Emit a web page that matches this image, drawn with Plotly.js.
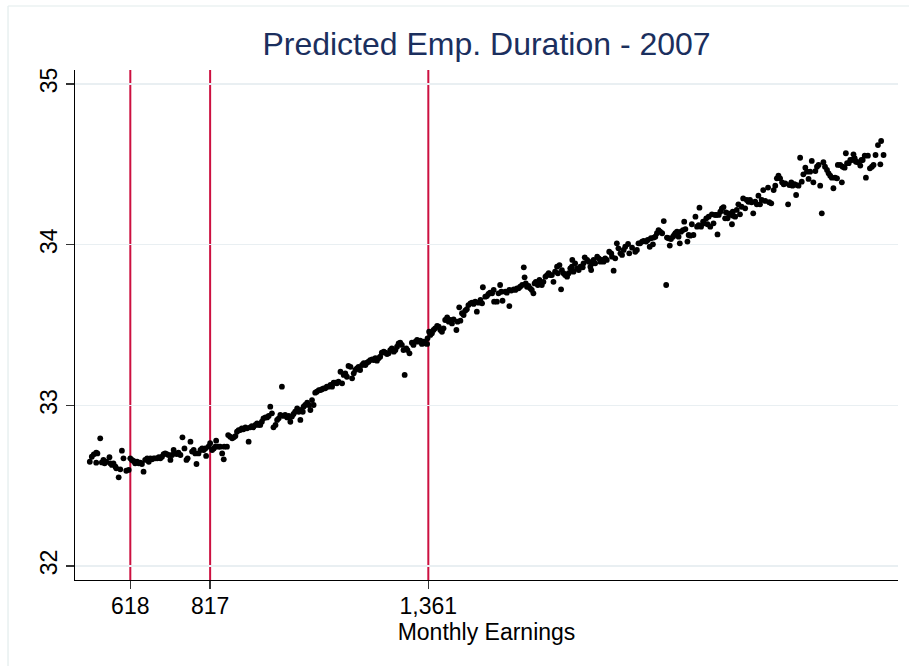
<!DOCTYPE html>
<html>
<head>
<meta charset="utf-8">
<script src="https://cdn.plot.ly/plotly-3.0.1.min.js"></script>
<style>html,body{margin:0;padding:0;background:#fff;overflow:hidden;}#chart{width:909px;height:666px;}</style>
</head>
<body>
<div id="chart"></div>
<script>
// Monthly earnings (x) of each point
const earnings = [
517,522,527,533,536,533,543,547,551,554,558,566,568,572,576,581,583,589,593,597,
601,608,614,618,622,626,630,635,639,643,647,651,655,660,664,668,672,676,680,685,
689,693,697,701,705,709,713,718,722,726,730,734,738,743,748,753,758,761,768,772,
776,780,783,788,793,797,801,805,807,813,817,822,826,830,832,838,842,847,851,852,
859,862,867,872,876,880,884,888,892,896,900,905,909,913,917,921,925,930,934,938,
942,946,950,955,959,963,967,971,975,980,984,988,992,996,1000,1004,1009,1013,1017,1021,
1025,1029,1034,1038,1042,1044,1048,1050,1054,1059,1063,1067,1071,1075,1079,1083,1088,1092,1096,1100,
1104,1108,1112,1117,1121,1125,1129,1133,1137,1142,1146,1150,1154,1158,1162,1167,1171,1175,1179,1183,1187,
1191,1196,1200,1204,1208,1212,1216,1221,1225,1229,1233,1237,1241,1245,1250,1254,1258,1262,1266,1270,
1275,1279,1283,1287,1291,1295,1299,1302,1306,1309,1314,1320,1324,1329,1333,1337,1341,1345,1349,1353,
1358,1359,1363,1366,1370,1374,1378,1383,1387,1391,1395,1399,1403,1408,1412,1416,1420,1424,1431,1434,
1438,1441,1445,1449,1453,1457,1461,1466,1470,1474,1478,1482,1486,1491,1495,1497,1503,1507,1511,1515,
1520,1524,1525,
1532,1536,1540,1543,1546,1553,1557,1563,1563,1568,1574,1578,1582,1586,1590,1595,1599,1601,1604,1607,
1611,1615,1619,1623,1626,1629,1634,1638,1640,1644,1648,1653,1657,1661,1665,1669,1673,1677,1682,1684,
1688,1692,1694,1698,1702,1707,1711,1715,1719,1720,1723,1727,1732,1736,1740,1746,1748,1751,1757,1761,
1765,1767,1771,1773,1777,1782,1786,1790,1794,1798,1802,1806,1812,1817,1819,1823,1827,1831,1835,1840,
1844,1848,1852,1859,1862,
1869,1877,1881,1885,1889,1894,1898,1904,1908,1913,1916,1921,1923,1927,1931,1935,1939,1944,1948,1954,
1956,1960,1963,1966,1971,1974,1977,1981,1985,1988,1991,1996,1999,2002,2007,2010,2014,2018,2022,2027,
2031,2035,2037,2041,2046,2049,2054,2057,2060,2064,2068,2072,2076,2079,2082,2085,2089,2093,2097,2101,
2103,2107,2109,2113,2118,2120,2121,2126,2130,2134,2138,2142,2146,2151,2155,2159,2163,2167,2171,2176,
2180,2184,2188,2192,2196,
2201,2208,2211,2216,2222,2226,2230,2234,2238,2243,2247,2251,2258,2261,2266,2269,2274,2278,2280,2284,
2288,2292,2296,2301,2305,2309,2313,2317,2321,2326,2330,2334,2338,2342,2346,2350,2355,2359,2363,2367,
2371,2375,2380,2382,2388,2392,2394,2399,2402,2405,2409,2413,2417,2421,2424,2427,2432,2438,2441,2444,
2449,2452,2457,2462,2467,2471,2476,2482,2488,2490,2496
];

// Predicted employment duration (y) of each point
const duration = [
32.649,32.680,32.695,32.705,32.701,32.643,32.795,32.645,32.660,32.639,32.649,32.677,32.639,32.629,32.639,32.618,32.608,32.552,32.602,32.718,
32.670,32.593,32.598,32.670,32.660,32.654,32.639,32.649,32.639,32.643,32.635,32.587,32.660,32.670,32.649,32.670,32.664,32.670,32.670,32.670,
32.677,32.670,32.680,32.697,32.701,32.697,32.691,32.660,32.691,32.722,32.701,32.697,32.705,32.691,32.801,32.732,32.660,32.670,32.774,32.712,
32.722,32.701,32.635,32.701,32.722,32.732,32.722,32.732,32.685,32.743,32.764,32.722,32.732,32.743,32.780,32.743,32.743,32.701,32.664,32.743,
32.743,32.815,32.805,32.795,32.801,32.809,32.836,32.846,32.846,32.857,32.851,32.863,32.857,32.774,32.863,32.871,32.863,32.878,32.888,32.878,
32.878,32.898,32.919,32.925,32.925,32.934,32.992,32.950,32.863,32.878,32.909,32.919,32.940,33.116,32.934,32.940,32.925,32.934,32.898,32.930,
32.946,32.960,32.981,32.960,32.909,32.971,32.960,32.992,33.002,33.016,33.002,32.971,33.033,33.002,33.079,33.085,33.095,33.095,33.100,33.106,
33.106,33.116,33.116,33.127,33.116,33.141,33.141,33.137,33.147,33.209,33.137,33.189,33.199,33.178,33.245,33.240,33.168,33.199,33.220,33.230,33.240,
33.220,33.251,33.262,33.251,33.265,33.272,33.282,33.286,33.282,33.293,33.278,33.293,33.303,33.328,33.334,33.328,33.319,33.324,33.344,33.355,
33.334,33.344,33.365,33.386,33.390,33.376,33.344,33.189,33.355,33.344,33.324,33.390,33.376,33.396,33.407,33.396,33.403,33.382,33.396,33.386,
33.382,33.417,33.458,33.438,33.448,33.469,33.479,33.494,33.489,33.469,33.458,33.479,33.531,33.548,33.521,33.531,33.510,33.535,33.469,33.521,
33.610,33.527,33.573,33.562,33.589,33.598,33.624,33.635,33.639,33.631,33.645,33.583,33.639,33.656,33.635,33.735,33.676,33.680,33.693,33.701,
33.697,33.718,33.645,
33.645,33.697,33.749,33.707,33.651,33.707,33.701,33.618,33.718,33.714,33.722,33.718,33.728,33.728,33.738,33.749,33.859,33.797,33.759,33.738,
33.743,33.728,33.718,33.697,33.759,33.769,33.749,33.780,33.763,33.749,33.769,33.801,33.811,33.822,33.811,33.811,33.769,33.832,33.863,33.822,
33.873,33.722,33.842,33.822,33.811,33.801,33.822,33.853,33.863,33.905,33.832,33.884,33.853,33.842,33.863,33.859,33.884,33.921,33.905,33.894,
33.863,33.842,33.884,33.905,33.884,33.925,33.915,33.894,33.905,33.894,33.915,33.905,33.956,33.946,33.925,33.838,33.915,34.008,33.977,33.946,
33.936,33.967,33.987,34.004,33.946,
33.981,33.956,33.967,34.008,34.008,34.019,34.023,34.019,34.029,33.987,34.040,34.002,34.044,34.050,34.071,34.091,34.081,34.071,34.147,33.749,
34.044,34.040,33.994,34.035,34.050,34.060,34.071,34.081,34.050,34.008,34.081,34.091,34.143,34.097,34.019,34.060,34.056,34.127,34.060,34.174,
34.112,34.122,34.230,34.112,34.143,34.133,34.164,34.127,34.174,34.112,34.189,34.133,34.185,34.185,34.064,34.185,34.205,34.226,34.234,34.164,
34.201,34.164,34.195,34.185,34.127,34.205,34.180,34.174,34.216,34.251,34.189,34.236,34.288,34.226,34.278,34.267,34.278,34.264,34.195,34.267,
34.251,34.305,34.251,34.278,34.340,
34.272,34.355,34.264,34.257,34.340,34.367,34.413,34.429,34.413,34.388,34.376,34.382,34.251,34.371,34.388,34.367,34.376,34.309,34.371,34.367,
34.541,34.392,34.438,34.479,34.454,34.409,34.454,34.521,34.388,34.458,34.485,34.496,34.367,34.195,34.513,34.485,34.465,34.444,34.429,34.417,
34.351,34.417,34.413,34.496,34.496,34.388,34.485,34.479,34.569,34.507,34.507,34.527,34.527,34.562,34.538,34.516,34.513,34.492,34.527,34.527,
34.554,34.417,34.554,34.475,34.485,34.496,34.558,34.620,34.500,34.645,34.558
];

// Reference lines and tick labels
const cutoffs = [618, 817, 1361];
const cutoffLabels = ['618', '817', '1,361'];
const yTicks = [32, 33, 34, 35];
const yTickLabels = ['32', '33', '34', '35'];

const FONT = '"Liberation Sans", Arial, Helvetica, sans-serif';

const trace = {
  x: earnings,
  y: duration,
  type: 'scatter',
  mode: 'markers',
  marker: {color: '#000000', size: 5.8},
  hoverinfo: 'x+y',
  showlegend: false
};

const shapes = cutoffs.map(c => ({
  type: 'line', xref: 'x', yref: 'paper',
  x0: c, x1: c, y0: 0, y1: 1,
  line: {color: '#cc1040', width: 2},
  layer: 'between'
}));

// outer light frame of the graph region (left and top edges only are visible)
shapes.push({
  type: 'line', xref: 'paper', yref: 'paper',
  x0: -0.0814, x1: -0.0814, y0: -0.17, y1: 1.1255,
  line: {color: '#e2ecec', width: 1.2}, layer: 'below'
});
shapes.push({
  type: 'line', xref: 'paper', yref: 'paper',
  x0: -0.0814, x1: 1.0134, y0: 1.1255, y1: 1.1255,
  line: {color: '#e2ecec', width: 1.2}, layer: 'below'
});

const layout = {
  width: 909, height: 666,
  margin: {l: 75, r: 11, t: 70, b: 86, pad: 0},
  paper_bgcolor: '#ffffff',
  plot_bgcolor: '#ffffff',
  font: {family: FONT, color: '#000000'},
  title: {
    text: 'Predicted Emp. Duration - 2007',
    font: {family: FONT, size: 32, color: '#1b2f5e'},
    xref: 'paper', x: 0.5, xanchor: 'center',
    yref: 'container', y: 1 - 44 / 666, yanchor: 'middle'
  },
  xaxis: {
    range: [480.1, 2532],
    tickmode: 'array', tickvals: cutoffs, ticktext: cutoffLabels,
    ticks: 'outside', ticklen: 8, tickwidth: 1.3, tickcolor: '#333333',
    ticklabelstandoff: -3,
    tickfont: {family: FONT, size: 23, color: '#000000'},
    showline: true, linecolor: '#000000', linewidth: 1.3,
    showgrid: false, zeroline: false,
    title: {text: 'Monthly Earnings', font: {family: FONT, size: 23, color: '#000000'}, standoff: 3}
  },
  yaxis: {
    range: [31.913, 35.087],
    tickmode: 'array', tickvals: yTicks, ticktext: yTickLabels,
    ticks: 'outside', ticklen: 8, tickwidth: 1.3, tickcolor: '#333333',
    tickangle: -90,
    tickfont: {family: FONT, size: 23, color: '#000000'},
    showline: true, linecolor: '#000000', linewidth: 1.3,
    showgrid: true, gridcolor: '#e9eff2', gridwidth: 1.5,
    zeroline: false
  },
  shapes: shapes
};

Plotly.newPlot('chart', [trace], layout, {displayModeBar: false, staticPlot: true});
</script>
</body>
</html>
